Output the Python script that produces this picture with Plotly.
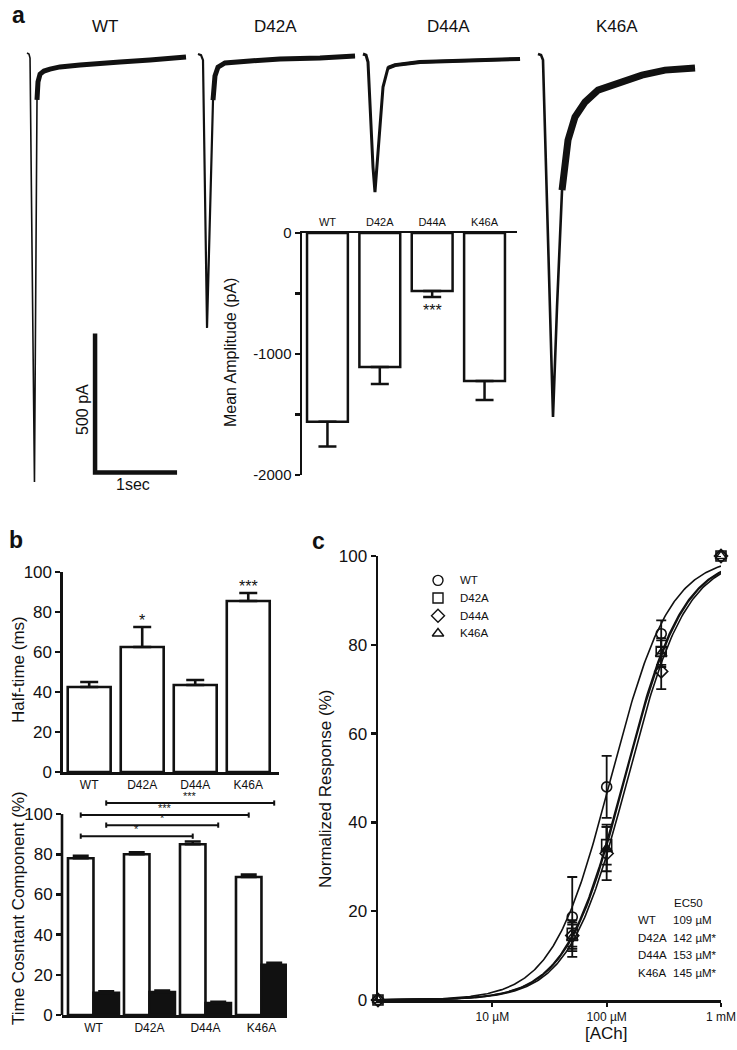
import numpy as np
import plotly.graph_objects as go

W, H = 737, 1050
FONT = "Liberation Sans, Arial, Helvetica, sans-serif"
BLACK = "#111111"

# ---------------- DATA ----------------
mutants = ["WT", "D42A", "D44A", "K46A"]

# Panel a: example current traces (time in s, current in pA)
wt_time = [0, 0.024, 0.037, 0.091, 0.122, 0.134, 0.159, 0.207, 0.280, 0.402, 0.646, 0.890, 1.134, 1.500, 1.939]
wt_curr = [0, -4, -18, -1544, -169, -104, -76, -65, -58, -50, -43, -36, -32, -25, -14]
d42a_time = [0, 0.037, 0.061, 0.110, 0.183, 0.207, 0.244, 0.329, 0.634, 1.000, 1.488, 1.915]
d42a_curr = [0, -4, -22, -986, -166, -79, -47, -32, -25, -18, -14, -7]
d44a_time = [0, 0.037, 0.061, 0.085, 0.122, 0.146, 0.171, 0.207, 0.244, 0.305, 0.390, 0.695, 1.183, 1.549, 1.915]
d44a_curr = [0, -4, -29, -191, -407, -497, -407, -248, -119, -50, -40, -29, -25, -22, -18]
k46a_time = [0, 0.037, 0.061, 0.183, 0.232, 0.268, 0.293, 0.329, 0.366, 0.451, 0.573, 0.732, 1.061, 1.268, 1.549, 1.915]
k46a_curr = [0, -4, -22, -1307, -911, -623, -490, -371, -310, -227, -173, -130, -94, -76, -58, -50]
scale_bar_pa = 500
scale_bar_s = 1

# Panel a inset: mean amplitude (pA)
amp_mean = [-1560, -1107, -479, -1223]
amp_sem = [205, 140, 50, 157]
amp_sig = ["", "", "***", ""]

# Panel b top: half-time (ms)
half_mean = [42.5, 62.5, 43.5, 85.5]
half_sem = [2.5, 10.0, 2.5, 4.0]
half_sig = ["", "*", "", "***"]

# Panel b bottom: time constant components (%)
tc_fast = [78.0, 80.0, 85.0, 68.7]
tc_fast_sem = [1.2, 1.0, 1.3, 1.2]
tc_slow = [11.0, 11.4, 6.0, 25.0]
tc_slow_sem = [0.8, 0.8, 0.6, 1.0]
tc_brackets = [("slow", 0, 3, "***"), ("fast", 0, 3, "***"), ("slow", 0, 2, "*"), ("fast", 0, 2, "*")]

# Panel c: dose-response (concentration in uM, normalized response %)
conc_um = [1, 50, 100, 300, 1000]
resp = {
    "WT": [0, 18.7, 48.0, 82.5, 100],
    "D42A": [0, 15.0, 35.0, 78.5, 100],
    "D44A": [0, 14.5, 33.0, 74.0, 100],
    "K46A": [0, 14.0, 34.0, 78.0, 100],
}
resp_sem = {
    "WT": [0, 9.0, 7.0, 3.0, 0],
    "D42A": [0, 3.0, 4.5, 3.0, 0],
    "D44A": [0, 3.0, 6.0, 4.0, 0],
    "K46A": [0, 3.0, 5.0, 3.0, 0],
}
ec50_um = [109, 142, 153, 145]
ec50_sig = ["", "*", "*", "*"]
hill_n = 1.7

# ---------------- FIGURE ----------------
fig = go.Figure()
layout = {}
annotations = []
shapes = []


def xa(n):
    return "x" if n == 1 else f"x{n}"


def ya(n):
    return "y" if n == 1 else f"y{n}"


def xkey(n):
    return "xaxis" if n == 1 else f"xaxis{n}"


def ykey(n):
    return "yaxis" if n == 1 else f"yaxis{n}"


def ann(text, x, y, size, **kw):
    d = dict(text=text, x=x / W, y=1 - y / H, xref="paper", yref="paper",
             xanchor="center", yanchor="middle",
             showarrow=False, font=dict(size=size, family=FONT, color=BLACK))
    d.update(kw)
    return d


# ---- Panel a traces ----
PX_PER_S = 82.0
PA_PER_PX = 3.6
traces_a = [(wt_time, wt_curr), (d42a_time, d42a_curr), (d44a_time, d44a_curr), (k46a_time, k46a_curr)]
origin_px = [(27, 53), (198, 54), (363, 54), (538, 54)]
box_px = [(20, 192), (192, 360), (358, 527), (530, 702)]
spike_w = [1.6, 2.2, 3.0, 2.6]
tail_w = [5, 5, 4, 7]
tail_from = [0.12, 0.18, 0.30, 0.29]
TOP, BOT = 30, 500
title_x = [105, 275, 448, 617]

for k, (t, c) in enumerate(traces_a):
    n = k + 1
    fig.add_trace(go.Scatter(x=t, y=c, mode="lines", line=dict(color=BLACK, width=spike_w[k]),
                             xaxis=xa(n), yaxis=ya(n), showlegend=False, hoverinfo="skip"))
    idx = [j for j, v in enumerate(t) if v >= tail_from[k]]
    fig.add_trace(go.Scatter(x=[t[j] for j in idx], y=[c[j] for j in idx], mode="lines",
                             line=dict(color=BLACK, width=tail_w[k]),
                             xaxis=xa(n), yaxis=ya(n), showlegend=False, hoverinfo="skip"))
    x0, y0 = origin_px[k]
    l, r = box_px[k]
    layout[xkey(n)] = dict(domain=[l / W, r / W], range=[(l - x0) / PX_PER_S, (r - x0) / PX_PER_S],
                           visible=False, anchor=ya(n), fixedrange=True, automargin=False)
    layout[ykey(n)] = dict(domain=[1 - BOT / H, 1 - TOP / H],
                           range=[-(BOT - y0) * PA_PER_PX, (y0 - TOP) * PA_PER_PX],
                           visible=False, anchor=xa(n), fixedrange=True, automargin=False)
    annotations.append(ann(mutants[k], title_x[k], 26, 17))

# scale bar in WT axes
sb_t, sb_i = 0.83, -1510
shapes.append(dict(type="path", xref="x", yref="y",
                   path=f"M {sb_t},{sb_i + scale_bar_pa} L {sb_t},{sb_i} L {sb_t + scale_bar_s},{sb_i}",
                   line=dict(color=BLACK, width=4.5)))
annotations.append(ann(f"{scale_bar_pa} pA", 83, 410, 16, textangle=-90))
annotations.append(ann(f"{scale_bar_s}sec", 133, 484, 16))
annotations.append(ann("<b>a</b>", 18, 15, 23))

# ---- Panel a inset: mean amplitude ----
cat = list(range(len(mutants)))
fig.add_trace(go.Bar(x=cat, y=amp_mean, width=0.78,
                     marker=dict(color="white", line=dict(color=BLACK, width=2.5)),
                     error_y=dict(type="data", symmetric=False, array=[0] * 4, arrayminus=amp_sem,
                                  color=BLACK, thickness=2.5, width=9),
                     xaxis="x5", yaxis="y5", showlegend=False, hoverinfo="skip"))
layout["xaxis5"] = dict(domain=[302 / W, 517 / W], range=[-0.486, 3.62], side="top", anchor="y5",
                        showline=True, linecolor=BLACK, linewidth=2.5, ticks="",
                        tickvals=cat, ticktext=mutants, tickfont=dict(size=11, family=FONT, color=BLACK),
                        showgrid=False, zeroline=False, fixedrange=True, automargin=False)
layout["yaxis5"] = dict(domain=[1 - 475 / H, 1 - 233 / H], range=[-2000, 0], anchor="x5",
                        showline=True, linecolor=BLACK, linewidth=2.5, ticks="outside", ticklen=5,
                        tickwidth=2.5, tickcolor=BLACK,
                        tickvals=[-2000, -1500, -1000, -500, 0], ticktext=["-2000", "", "-1000", "", "0"],
                        tickfont=dict(size=15, family=FONT, color=BLACK),
                        showgrid=False, zeroline=False, fixedrange=True, automargin=False)
for i, s in enumerate(amp_sig):
    if s:
        annotations.append(dict(text=s, x=cat[i], y=amp_mean[i] - amp_sem[i], xref="x5", yref="y5",
                                showarrow=False, xanchor="center", yanchor="top", yshift=-3,
                                font=dict(size=16, family=FONT, color=BLACK)))
annotations.append(ann("Mean Amplitude (pA)", 231, 353, 16, textangle=-90))

# ---- Panel b top: half-time ----
fig.add_trace(go.Bar(x=cat, y=half_mean, width=0.81,
                     marker=dict(color="white", line=dict(color=BLACK, width=2.6)),
                     error_y=dict(type="data", symmetric=False, array=half_sem, arrayminus=[0] * 4,
                                  color=BLACK, thickness=2.6, width=9),
                     xaxis="x6", yaxis="y6", showlegend=False, hoverinfo="skip"))
layout["xaxis6"] = dict(domain=[63 / W, 279 / W], range=[-0.494, 3.58], anchor="y6",
                        showline=True, linecolor=BLACK, linewidth=2.6, ticks="",
                        tickvals=cat, ticktext=mutants, tickfont=dict(size=12, family=FONT, color=BLACK),
                        showgrid=False, zeroline=False, fixedrange=True, automargin=False)
layout["yaxis6"] = dict(domain=[1 - 772 / H, 1 - 572 / H], range=[0, 100], anchor="x6", dtick=20,
                        showline=True, linecolor=BLACK, linewidth=2.6, ticks="outside", ticklen=5,
                        tickwidth=2.5, tickcolor=BLACK, tickfont=dict(size=17, family=FONT, color=BLACK),
                        showgrid=False, zeroline=False, fixedrange=True, automargin=False)
for i, s in enumerate(half_sig):
    if s:
        annotations.append(dict(text=s, x=cat[i], y=half_mean[i] + half_sem[i], xref="x6", yref="y6",
                                showarrow=False, xanchor="center", yanchor="bottom", yshift=-4,
                                font=dict(size=16, family=FONT, color=BLACK)))
annotations.append(ann("Half-time (ms)", 18, 670, 17, textangle=-90))
annotations.append(ann("<b>b</b>", 16, 540, 23))

# ---- Panel b bottom: time constant components ----
BW = 0.455
fig.add_trace(go.Bar(x=cat, y=tc_fast, width=BW, offset=-BW,
                     marker=dict(color="white", line=dict(color=BLACK, width=2.6)),
                     error_y=dict(type="data", symmetric=False, array=tc_fast_sem, arrayminus=[0] * 4,
                                  color=BLACK, thickness=2.5, width=8),
                     xaxis="x7", yaxis="y7", showlegend=False, hoverinfo="skip"))
fig.add_trace(go.Bar(x=cat, y=tc_slow, width=BW, offset=0,
                     marker=dict(color=BLACK, line=dict(color=BLACK, width=2.6)),
                     error_y=dict(type="data", symmetric=False, array=tc_slow_sem, arrayminus=[0] * 4,
                                  color=BLACK, thickness=2.5, width=8),
                     xaxis="x7", yaxis="y7", showlegend=False, hoverinfo="skip"))
layout["xaxis7"] = dict(domain=[62 / W, 287 / W], range=[-0.562, 3.456], anchor="y7",
                        showline=True, linecolor=BLACK, linewidth=2.6, ticks="",
                        tickvals=cat, ticktext=mutants, tickfont=dict(size=12, family=FONT, color=BLACK),
                        showgrid=False, zeroline=False, fixedrange=True, automargin=False)
layout["yaxis7"] = dict(domain=[1 - 1015 / H, 1 - 798 / H], range=[0, 108], anchor="x7",
                        showline=False, ticks="outside", ticklen=5, tickwidth=2.5, tickcolor=BLACK,
                        tickvals=[0, 20, 40, 60, 80, 100],
                        tickfont=dict(size=17, family=FONT, color=BLACK),
                        showgrid=False, zeroline=False, fixedrange=True, automargin=False)
shapes.append(dict(type="line", xref="x7 domain", yref="y7", x0=0, x1=0, y0=0, y1=100,
                   line=dict(color=BLACK, width=2.6)))
bracket_y = [105.5, 99.5, 94.5, 89.0]
for (series, a, b, s), yb in zip(tc_brackets, bracket_y):
    off = -BW / 2 if series == "fast" else BW / 2
    xa_, xb_ = cat[a] + off, cat[b] + off
    shapes.append(dict(type="line", xref="x7", yref="y7", x0=xa_, x1=xb_, y0=yb, y1=yb,
                       line=dict(color=BLACK, width=2)))
    for xe in (xa_, xb_):
        shapes.append(dict(type="line", xref="x7", yref="y7", x0=xe, x1=xe, y0=yb - 1.3, y1=yb + 1.3,
                           line=dict(color=BLACK, width=2)))
    annotations.append(dict(text=s, x=(xa_ + xb_) / 2, y=yb, xref="x7", yref="y7", showarrow=False,
                            xanchor="center", yanchor="bottom", yshift=-1,
                            font=dict(size=11, family=FONT, color=BLACK)))
annotations.append(ann("Time Cosntant Component (%)", 18, 908, 17, textangle=-90))

# ---- Panel c: dose-response ----
symbols = {"WT": "circle-open", "D42A": "square-open", "D44A": "diamond-open", "K46A": "triangle-up-open"}
xs = np.logspace(0, 3, 300)
for k, m in enumerate(mutants):
    fig.add_trace(go.Scatter(x=xs, y=100.0 / (1.0 + (ec50_um[k] / xs) ** hill_n), mode="lines",
                             line=dict(color=BLACK, width=1.6), xaxis="x8", yaxis="y8",
                             showlegend=False, hoverinfo="skip"))
for k, m in enumerate(mutants):
    fig.add_trace(go.Scatter(x=conc_um, y=resp[m], mode="markers", name=m,
                             marker=dict(symbol=symbols[m], size=10, color=BLACK, line=dict(width=1.6, color=BLACK)),
                             error_y=dict(type="data", array=resp_sem[m], color=BLACK, thickness=1.8, width=5),
                             cliponaxis=False, xaxis="x8", yaxis="y8", showlegend=False, hoverinfo="skip"))
layout["xaxis8"] = dict(type="log", domain=[378 / W, 721 / W], range=[0, 3], anchor="y8",
                        showline=True, linecolor=BLACK, linewidth=2.5, ticks="outside", ticklen=4,
                        tickwidth=2, tickcolor=BLACK, tickvals=[10, 100, 1000],
                        ticktext=["10 \u00b5M", "100 \u00b5M", "1 mM"],
                        tickfont=dict(size=12, family=FONT, color=BLACK),
                        showgrid=False, zeroline=False, fixedrange=True, automargin=False)
layout["yaxis8"] = dict(domain=[1 - 1000 / H, 1 - 556 / H], range=[0, 100], anchor="x8", dtick=20,
                        showline=True, linecolor=BLACK, linewidth=2.5, ticks="outside", ticklen=5,
                        tickwidth=2.5, tickcolor=BLACK, tickfont=dict(size=17, family=FONT, color=BLACK),
                        showgrid=False, zeroline=False, fixedrange=True, automargin=False)
annotations.append(ann("Normalized Response (%)", 325, 789, 17, textangle=-90))
annotations.append(ann("[ACh]", 606, 1033, 17))
annotations.append(ann("<b>c</b>", 318, 541, 23))

# Legend key for panel c (hidden axes: one row per mutant)
LEG_TOP, LEG_ROW = 571.5, 17.7
legend_rows = list(range(len(mutants)))
for k, m in enumerate(mutants):
    fig.add_trace(go.Scatter(x=[0], y=[legend_rows[k]], mode="markers",
                             marker=dict(symbol=symbols[m], size=10, color=BLACK, line=dict(width=1.4, color=BLACK)),
                             xaxis="x9", yaxis="y9", showlegend=False, hoverinfo="skip", cliponaxis=False))
    annotations.append(dict(text=m, x=0, y=legend_rows[k], xref="x9", yref="y9", xanchor="left",
                            yanchor="middle", xshift=20, showarrow=False,
                            font=dict(size=11.5, family=FONT, color=BLACK)))
layout["xaxis9"] = dict(domain=[428 / W, 448 / W], range=[-1, 1], visible=False, anchor="y9",
                        fixedrange=True, automargin=False)
layout["yaxis9"] = dict(domain=[1 - (LEG_TOP + 4 * LEG_ROW) / H, 1 - LEG_TOP / H],
                        range=[len(mutants) - 0.5, -0.5], visible=False, anchor="x9",
                        fixedrange=True, automargin=False)

# EC50 table
annotations.append(ann("EC50", 672, 903, 11.5, xanchor="left"))
for k, m in enumerate(mutants):
    yy = 920 + 17.7 * k
    annotations.append(ann(m, 636, yy, 11.5, xanchor="left"))
    annotations.append(ann(f"{ec50_um[k]} \u00b5M{ec50_sig[k]}", 671, yy, 11.5, xanchor="left"))

fig.update_layout(
    template="none",
    width=W, height=H, margin=dict(l=0, r=0, t=0, b=0, pad=0), autosize=False,
    paper_bgcolor="white", plot_bgcolor="rgba(0,0,0,0)",
    font=dict(family=FONT, color=BLACK),
    barmode="overlay",
    showlegend=False,
    annotations=annotations, shapes=shapes,
    **layout,
)
fig.write_html("out.html", config={"displayModeBar": False, "staticPlot": True},
               post_script="document.body.style.margin='0';document.body.style.padding='0';")
